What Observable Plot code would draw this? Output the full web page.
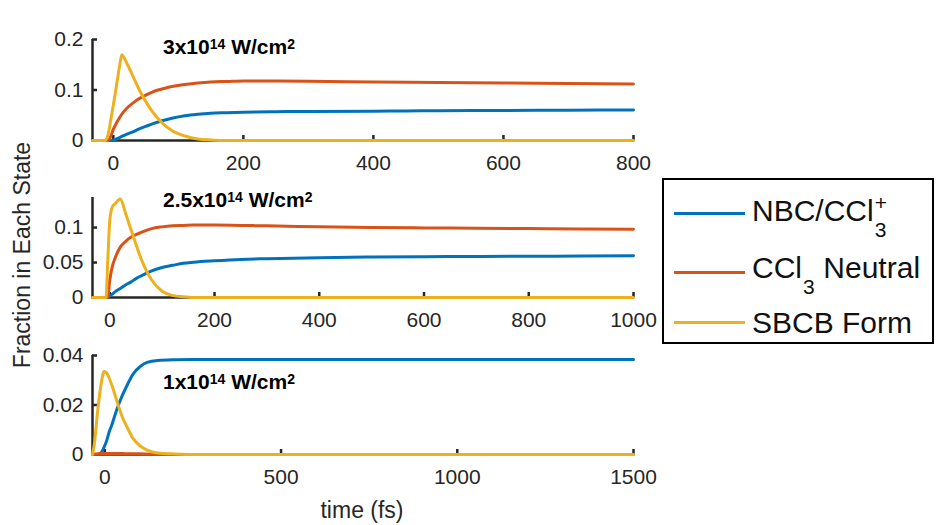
<!DOCTYPE html>
<html><head><meta charset="utf-8">
<script src="https://cdn.jsdelivr.net/npm/d3@7"></script>
<script src="https://cdn.jsdelivr.net/npm/@observablehq/plot@0.6"></script>
<style>
body{margin:0;background:#fff;}
#wrap{position:relative;width:936px;height:525px;overflow:hidden;background:#fff;font-family:"Liberation Sans",Arial,sans-serif;color:#262626;}
.panel{position:absolute;left:0;}
.title{position:absolute;left:163px;font-weight:bold;font-size:21px;color:#000;white-space:nowrap;line-height:1;}
.title sup{font-size:14px;vertical-align:5px;line-height:0;}
.ylab{position:absolute;left:22px;top:255px;transform:translate(-50%,-50%) rotate(-90deg);white-space:nowrap;font-size:23px;line-height:1;}
.xlab{position:absolute;left:362px;top:499px;transform:translateX(-50%);white-space:nowrap;font-size:23px;line-height:1;}
#legend{position:absolute;left:662px;top:178px;width:272px;height:166px;box-sizing:border-box;border:2.5px solid #000;background:#fff;}
.lline{position:absolute;left:10px;width:71px;height:3px;}
.ltext{position:absolute;left:88px;font-size:30px;line-height:1;color:#111;white-space:nowrap;}
.ss{position:relative;display:inline-block;width:15px;height:1px;}
.ss span{position:absolute;left:1px;font-size:21px;line-height:1;}
</style>
</head><body>
<div id="wrap"></div>
<script>
// ---- data ----
const seriesNames = ["NBC/CCl3+", "CCl3 Neutral", "SBCB Form"];
const seriesColors = ["#0072BD", "#D95319", "#EDB120"];
const panelTitles = ["3x10", "2.5x10", "1x10"];

// Panel 1: 3x10^14 W/cm^2
const p1Time   = [-32, -12, -8, -4, 0, 5, 10, 13, 20, 30, 40, 50, 60, 75, 90, 110, 130, 150, 175, 200, 250, 300, 400, 500, 600, 700, 800];
const p1Blue   = [0, 0, 0, 0, 0.001, 0.003, 0.006, 0.008, 0.012, 0.017, 0.023, 0.028, 0.033, 0.039, 0.044, 0.049, 0.052, 0.054, 0.055, 0.056, 0.057, 0.0575, 0.058, 0.059, 0.0595, 0.060, 0.0605];
const p1Orange = [0, 0, 0, 0.008, 0.022, 0.035, 0.046, 0.052, 0.063, 0.074, 0.083, 0.090, 0.096, 0.102, 0.107, 0.111, 0.114, 0.116, 0.117, 0.118, 0.118, 0.1175, 0.116, 0.115, 0.114, 0.113, 0.112];
const p1Yellow = [0, 0, 0.012, 0.04, 0.07, 0.11, 0.15, 0.17, 0.155, 0.128, 0.10, 0.077, 0.057, 0.035, 0.02, 0.009, 0.003, 0.001, 0, 0, 0, 0, 0, 0, 0, 0, 0];
const p1XTicks = [0, 200, 400, 600, 800];
const p1YTicks = [0, 0.1, 0.2];

// Panel 2: 2.5x10^14 W/cm^2
const p2Time   = [-33, -7, -4, 0, 5, 10, 20, 30, 40, 50, 60, 80, 100, 120, 140, 160, 200, 250, 300, 400, 500, 600, 700, 800, 900, 1000];
const p2Blue   = [0, 0, 0, 0.002, 0.005, 0.008, 0.013, 0.018, 0.022, 0.027, 0.031, 0.038, 0.043, 0.046, 0.049, 0.0505, 0.0525, 0.0545, 0.0555, 0.057, 0.0578, 0.0583, 0.0587, 0.059, 0.0593, 0.0596];
const p2Orange = [0, 0, 0, 0.025, 0.045, 0.056, 0.072, 0.080, 0.086, 0.090, 0.093, 0.0985, 0.101, 0.1025, 0.103, 0.1035, 0.1035, 0.103, 0.1025, 0.101, 0.100, 0.0995, 0.099, 0.0985, 0.098, 0.0977];
const p2Yellow = [0, 0, 0.05, 0.11, 0.13, 0.134, 0.141, 0.121, 0.098, 0.076, 0.055, 0.025, 0.009, 0.003, 0.001, 0, 0, 0, 0, 0, 0, 0, 0, 0, 0, 0];
const p2XTicks = [0, 200, 400, 600, 800, 1000];
const p2YTicks = [0, 0.05, 0.1];

// Panel 3: 1x10^14 W/cm^2
const p3Time   = [-35, -30, -20, -10, -2, 5, 12, 20, 30, 40, 50, 65, 80, 100, 120, 150, 200, 250, 300, 500, 1000, 1500];
const p3Blue   = [0, 0, 0, 0.0008, 0.003, 0.0055, 0.009, 0.012, 0.0165, 0.0205, 0.024, 0.0285, 0.0325, 0.0355, 0.0372, 0.038, 0.0383, 0.0384, 0.0384, 0.0384, 0.0384, 0.0384];
const p3Orange = [0, 0.0001, 0.0003, 0.0004, 0.0004, 0.0004, 0.0004, 0.0004, 0.0004, 0.0004, 0.0004, 0.0003, 0.0003, 0.0003, 0.0002, 0.0001, 0, 0, 0, 0, 0, 0];
const p3Yellow = [0, 0.004, 0.018, 0.029, 0.0335, 0.033, 0.031, 0.028, 0.0235, 0.019, 0.015, 0.0105, 0.0065, 0.0035, 0.0018, 0.0006, 0.0002, 0, 0, 0, 0, 0];
const p3XTicks = [0, 500, 1000, 1500];
const p3YTicks = [0, 0.02, 0.04];

// ---- drawing ----
const wrap = document.getElementById("wrap");
const axisColor = "#262626";

function toRows(time, cols) {
  const rows = [];
  cols.forEach((vals, s) => time.forEach((t, i) => rows.push({t, v: vals[i], s: seriesNames[s]})));
  return rows;
}

function panel({top, height, mTop, mBottom, xDomain, yDomain, xTicks, yTicks, time, cols}) {
  const width = 660, mLeft = 92, mRight = 27;
  const innerW = width - mLeft - mRight, innerH = height - mTop - mBottom;
  const rows = toRows(time, cols);
  const chart = Plot.plot({
    width, height, marginLeft: mLeft, marginRight: mRight, marginTop: mTop, marginBottom: mBottom,
    style: {fontFamily: '"Liberation Sans", Arial, sans-serif', fontSize: "21px", color: axisColor, background: "transparent", overflow: "visible"},
    x: {domain: xDomain, label: null},
    y: {domain: yDomain, label: null},
    color: {domain: seriesNames, range: seriesColors},
    marks: [
      Plot.axisX({ticks: xTicks, tickSize: 0, tickPadding: 15, tickFormat: d => String(d), fill: axisColor, label: null}),
      Plot.axisY({ticks: yTicks, tickSize: 0, tickPadding: 9, tickFormat: d => String(d), fill: axisColor, label: null}),
      Plot.ruleY([yDomain[0]], {stroke: axisColor, strokeWidth: 2.5}),
      Plot.ruleX([xDomain[0]], {stroke: axisColor, strokeWidth: 2.5}),
      Plot.tickX(xTicks, {x: d => d, insetTop: innerH - 5, stroke: axisColor, strokeWidth: 2.5}),
      Plot.tickY(yTicks, {y: d => d, insetRight: innerW - 5, stroke: axisColor, strokeWidth: 2.5}),
      Plot.line(rows, {x: "t", y: "v", z: "s", stroke: "s", strokeWidth: 3, curve: "monotone-x"})
    ]
  });
  const div = document.createElement("div");
  div.className = "panel";
  div.style.top = top + "px";
  div.appendChild(chart);
  wrap.appendChild(div);
}

panel({top: 20, height: 160, mTop: 19, mBottom: 40, xDomain: [-32, 800], yDomain: [0, 0.2],
  xTicks: p1XTicks, yTicks: p1YTicks, time: p1Time, cols: [p1Blue, p1Orange, p1Yellow]});
panel({top: 180, height: 160, mTop: 17, mBottom: 43, xDomain: [-33, 1000], yDomain: [0, 0.143],
  xTicks: p2XTicks, yTicks: p2YTicks, time: p2Time, cols: [p2Blue, p2Orange, p2Yellow]});
panel({top: 340, height: 140, mTop: 15, mBottom: 26, xDomain: [-35, 1500], yDomain: [0, 0.04],
  xTicks: p3XTicks, yTicks: p3YTicks, time: p3Time, cols: [p3Blue, p3Orange, p3Yellow]});

// titles
[[36, panelTitles[0]], [189, panelTitles[1]], [371, panelTitles[2]]].forEach(([y, base]) => {
  const d = document.createElement("div");
  d.className = "title";
  d.style.top = y + "px";
  d.innerHTML = base + "<sup>14</sup> W/cm<sup>2</sup>";
  wrap.appendChild(d);
});

// axis labels
const yl = document.createElement("div"); yl.className = "ylab"; yl.textContent = "Fraction in Each State"; wrap.appendChild(yl);
const xl = document.createElement("div"); xl.className = "xlab"; xl.textContent = "time (fs)"; wrap.appendChild(xl);

// legend
const leg = document.createElement("div"); leg.id = "legend";
const lineY = [33, 92, 142];
const textY = [16, 73, 128];
const labels = [
  'NBC/CCl<span class="ss"><span style="top:-28px">+</span><span style="top:-1px">3</span></span>',
  'CCl<span class="ss" style="width:13px"><span style="top:-1px">3</span></span> Neutral',
  'SBCB Form'
];
seriesColors.forEach((c, i) => {
  const l = document.createElement("div"); l.className = "lline";
  l.style.top = (lineY[i] - 1.5) + "px"; l.style.background = c; leg.appendChild(l);
  const t = document.createElement("div"); t.className = "ltext";
  t.style.top = textY[i] + "px"; t.innerHTML = labels[i]; leg.appendChild(t);
});
wrap.appendChild(leg);
</script>
</body></html>
